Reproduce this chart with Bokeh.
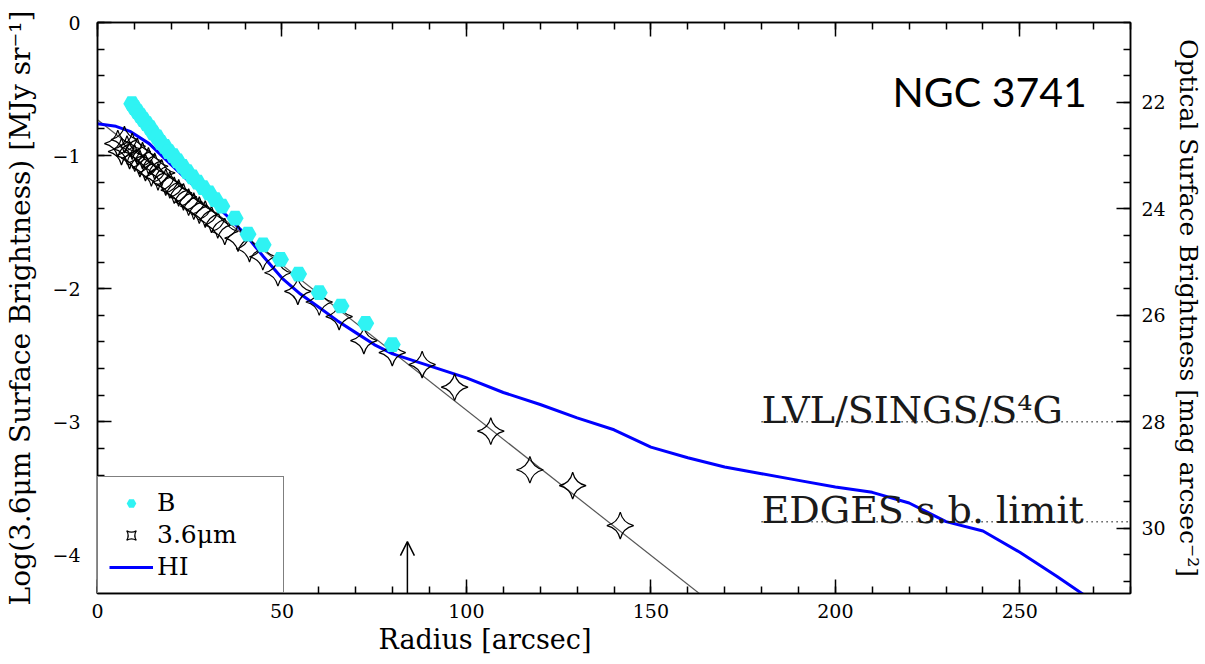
import math
from bokeh.plotting import figure
from bokeh.models import (Range1d, LinearAxis, SingleIntervalTicker, Legend, LegendItem,
                          Arrow, OpenHead, Title, Label)
from bokeh.core.properties import value
from bokeh.embed import file_html
from bokeh.resources import INLINE

# ---------------- data ----------------
b_radius = [9.3, 10.0, 10.8, 11.6, 12.4, 13.3, 14.2, 15.1, 16.1, 17.1, 18.2, 19.3, 20.5,
            21.7, 23.0, 24.3, 25.7, 27.1, 28.6, 30.2, 31.9, 33.7, 37.3, 40.8, 44.9, 49.6,
            54.5, 60.1, 66.0, 72.7, 79.9]
b_logsb = [-0.61, -0.64, -0.67, -0.70, -0.73, -0.76, -0.79, -0.83, -0.86, -0.90, -0.93,
           -0.97, -1.00, -1.04, -1.08, -1.12, -1.16, -1.20, -1.24, -1.28, -1.33, -1.38,
           -1.47, -1.59, -1.67, -1.78, -1.89, -2.03, -2.13, -2.26, -2.42]

irac_radius = [5.5, 6.5, 7.3, 8.0, 8.7, 9.4, 10.1, 10.8, 11.5, 12.2, 13.0, 13.8, 14.6, 15.5,
               16.4, 17.4, 18.5, 19.6, 20.8, 22.0, 23.3, 24.7, 26.1, 27.6, 29.2, 30.9, 32.6,
               34.5, 38.1, 41.2, 44.8, 48.9, 54.3, 60.1, 65.5, 72.2, 79.9, 88.0, 96.8,
               106.6, 117.2, 128.8, 141.7]
irac_logsb = [-0.91, -0.97, -0.88, -0.95, -1.00, -0.93, -1.02, -0.97, -1.06, -1.00, -1.09,
              -1.04, -1.13, -1.08, -1.16, -1.13, -1.20, -1.22, -1.26, -1.28, -1.31, -1.35,
              -1.38, -1.41, -1.44, -1.48, -1.52, -1.57, -1.62, -1.70, -1.76, -1.88, -2.02,
              -2.10, -2.21, -2.39, -2.48, -2.57, -2.74, -3.07, -3.36, -3.48, -3.78]

hi_radius = [0, 5, 9, 14, 20, 25, 30, 35, 40, 45, 50, 55, 60, 65, 70, 75, 80, 90, 100, 110,
             120, 130, 140, 150, 160, 170, 180, 190, 200, 210, 220, 230, 240, 250, 260, 270]
hi_logsb = [-0.76, -0.78, -0.82, -0.91, -1.07, -1.20, -1.32, -1.45, -1.59, -1.76, -1.92,
            -2.04, -2.14, -2.24, -2.33, -2.42, -2.49, -2.58, -2.67, -2.78, -2.87, -2.97,
            -3.06, -3.19, -3.27, -3.34, -3.39, -3.44, -3.49, -3.53, -3.61, -3.75, -3.82,
            -3.98, -4.16, -4.35]

fit_radius = [0, 170]
fit_logsb = [-0.73, -4.44]

limit_names = ["LVL/SINGS/S\u2074G", "EDGES s.b. limit"]
limit_logsb = [-3.0, -3.75]
limit_start = [180, 180]
limit_end = [280, 280]

arrow_radius = 84
arrow_tip = -3.90

legend_labels = ["B", "3.6\u03bcm", "HI"]
x_ticks_interval = 50
mag_zero = 20.5      # optical mag at log = 0
mag_per_dex = 2.5

X_MIN, X_MAX = 0, 280
Y_MIN, Y_MAX = -4.29, 0

SERIF = "DejaVu Serif"

p = figure(width=1205, height=664, output_backend="svg", toolbar_location=None,
           x_range=Range1d(X_MIN, X_MAX), y_range=Range1d(Y_MIN, Y_MAX),
           min_border_left=97, min_border_right=70, min_border_top=22,
           min_border_bottom=71)
p.grid.visible = False
p.outline_line_color = "black"
p.outline_line_width = 1.5
p.background_fill_color = "white"
p.border_fill_color = "white"

p.extra_y_ranges = {"mag": Range1d(start=mag_zero - mag_per_dex * Y_MIN,
                                   end=mag_zero - mag_per_dex * Y_MAX)}


def style_axis(ax):
    ax.major_tick_in = 14
    ax.major_tick_out = 0
    ax.minor_tick_in = 7
    ax.minor_tick_out = 0
    ax.axis_line_width = 1.5
    ax.axis_line_color = "black"
    ax.major_tick_line_width = 1.5
    ax.minor_tick_line_width = 1.5
    ax.major_tick_line_color = "black"
    ax.minor_tick_line_color = "black"
    ax.major_label_text_font = SERIF
    ax.major_label_text_font_size = "19px"
    ax.major_label_text_color = "black"
    ax.axis_label_text_font = SERIF
    ax.axis_label_text_font_style = "normal"
    ax.axis_label_text_color = "black"


# bottom axis
xa = p.xaxis[0]
xa.ticker = SingleIntervalTicker(interval=x_ticks_interval, num_minor_ticks=5)
style_axis(xa)
xa.major_label_standoff = 10

# left axis
ya = p.yaxis[0]
ya.ticker = SingleIntervalTicker(interval=1, num_minor_ticks=5)
style_axis(ya)
ya.major_label_standoff = 17
ya.major_label_overrides = {0: "0", -1: "\u22121", -2: "\u22122", -3: "\u22123", -4: "\u22124"}
ya.axis_label = "Log(3.6\u03bcm Surface Brightness) [MJy sr\u207b\u00b9]"
ya.axis_label_text_font_size = "28px"
ya.axis_label_standoff = 12

# top axis (ticks only, no labels)
ta = LinearAxis(ticker=SingleIntervalTicker(interval=x_ticks_interval, num_minor_ticks=5))
style_axis(ta)
ta.major_label_overrides = {v: "" for v in range(-50, 400, 50)}
ta.major_label_standoff = 0
p.add_layout(ta, "above")

# right axis (optical magnitudes)
ra = LinearAxis(y_range_name="mag",
                ticker=SingleIntervalTicker(interval=2, num_minor_ticks=4),
                axis_label="Optical Surface Brightness [mag arcsec\u207b\u00b2]")
style_axis(ra)
ra.major_label_standoff = 11
ra.axis_label_text_font_size = "25px"
ra.axis_label_standoff = 5
p.add_layout(ra, "right")

# x-axis title (offset like the reference)
p.add_layout(Title(text="Radius [arcsec]", align="left", offset=281,
                   text_font=SERIF, text_font_size="27px", text_font_style="normal",
                   text_color="black", standoff=2), "below")

# ---------------- glyphs ----------------
p.line(fit_radius, fit_logsb, line_color="#555555", line_width=1.2)
hi_r = p.line(hi_radius, hi_logsb, line_color="#0000ff", line_width=3)
star_r = p.scatter(irac_radius, irac_logsb, marker="square_pin", size=19,
                   angle=math.pi / 4, fill_color=None, line_color="black", line_width=1.2)
b_r = p.scatter(b_radius, b_logsb, marker="hex", size=17, fill_color="#2ff3f3",
                line_color=None)

p.segment(x0=limit_start, y0=limit_logsb, x1=limit_end, y1=limit_logsb,
          line_color="black", line_width=1.5, line_dash="1 4")
p.text(x=limit_start, y=limit_logsb, text=limit_names, text_font=value(SERIF),
       text_font_size=value("38px"), text_baseline="alphabetic", text_align="left",
       text_color="#1a1a1a", y_offset=-12)

p.add_layout(Arrow(end=OpenHead(size=14, line_width=1.5, line_color="black"),
                   x_start=arrow_radius, y_start=Y_MIN, x_end=arrow_radius, y_end=arrow_tip,
                   line_width=1.5, line_color="black"))

p.add_layout(Label(x=215.5, y=-0.52, text="NGC 3741", text_font="Lato",
                   text_font_size="41px", text_baseline="alphabetic", text_color="black"))

legend = Legend(items=[LegendItem(label=legend_labels[0], renderers=[b_r]),
                       LegendItem(label=legend_labels[1], renderers=[star_r]),
                       LegendItem(label=legend_labels[2], renderers=[hi_r])],
                location=(0, 0), padding=11, spacing=3, margin=0,
                glyph_width=44, glyph_height=24, label_standoff=4, label_width=115,
                label_text_font=SERIF, label_text_font_size="25px",
                label_text_color="black",
                border_line_color="black", border_line_width=1.2,
                background_fill_color="white", background_fill_alpha=1.0)
p.add_layout(legend)

open("out.html", "w").write(file_html(p, INLINE))
